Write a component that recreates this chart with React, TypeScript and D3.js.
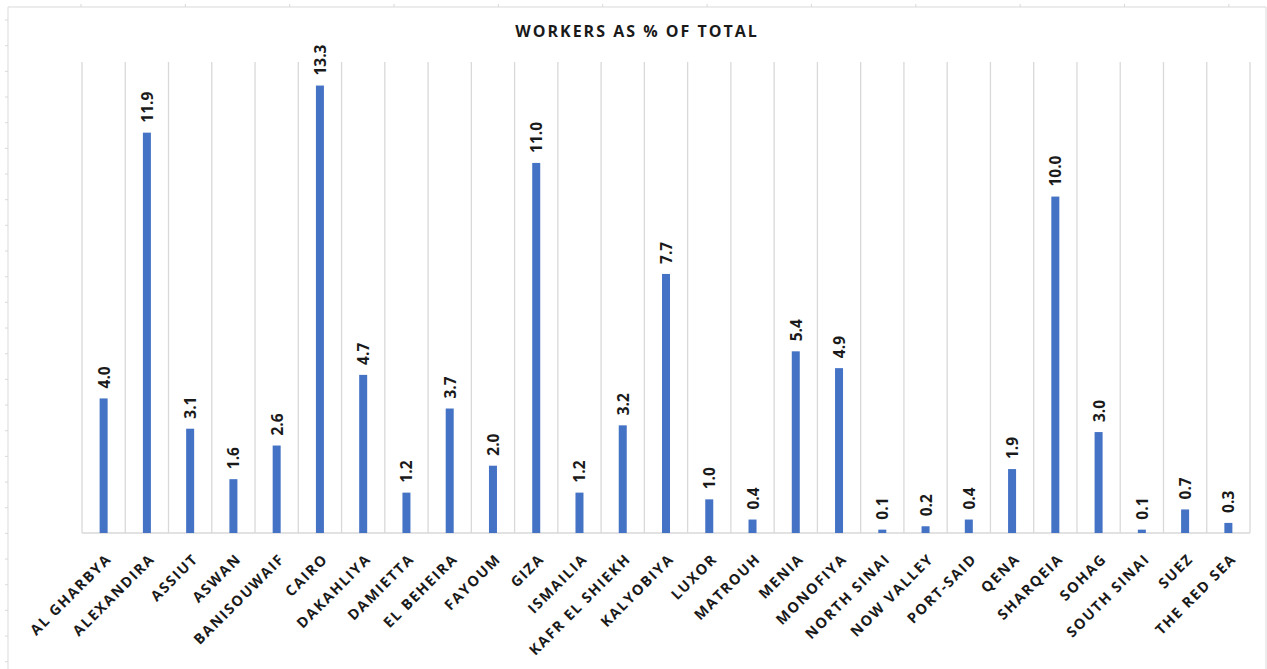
import React from "react";
import * as d3 from "d3";

// Share of workers by governorate (%)
const governorates = [
  "AL GHARBYA", "ALEXANDIRA", "ASSIUT", "ASWAN", "BANISOUWAIF", "CAIRO",
  "DAKAHLIYA", "DAMIETTA", "EL BEHEIRA", "FAYOUM", "GIZA", "ISMAILIA",
  "KAFR EL SHIEKH", "KALYOBIYA", "LUXOR", "MATROUH", "MENIA", "MONOFIYA",
  "NORTH SINAI", "NOW VALLEY", "PORT-SAID", "QENA", "SHARQEIA", "SOHAG",
  "SOUTH SINAI", "SUEZ", "THE RED SEA",
];
const workerShare = [
  4.0, 11.9, 3.1, 1.6, 2.6, 13.3, 4.7, 1.2, 3.7, 2.0, 11.0, 1.2, 3.2, 7.7,
  1.0, 0.4, 5.4, 4.9, 0.1, 0.2, 0.4, 1.9, 10.0, 3.0, 0.1, 0.7, 0.3,
];
const yDomain = [0, 14];
const chartTitle = "WORKERS AS % OF TOTAL";

const W = 1267;
const H = 669;
const plot = { left: 82, right: 1250, top: 62, bottom: 533 };
const FONT = "'Open Sans', 'DejaVu Sans', sans-serif";
const GRID = "#d9d9d9";
const BAR = "#4472C4";

export default function App() {
  const x = d3
    .scaleBand<string>()
    .domain(governorates)
    .range([plot.left, plot.right])
    .paddingInner(0)
    .paddingOuter(0);
  const y = d3.scaleLinear().domain(yDomain).range([plot.bottom, plot.top]);
  const barW = 8;
  const bw = x.bandwidth();

  const boundaries = d3.range(governorates.length + 1).map((i) => plot.left + i * bw);
  const leftRuler = d3.range(0, 26).map((i) => 20 + i * 25.67);
  const topRuler = d3.range(0, 12).map((i) => 81 + i * 104.35);

  return (
    <div style={{ position: "absolute", left: 0, top: 0 }}>
      <svg width={W} height={H} style={{ display: "block", background: "#fff" }}>
        {/* outer frame */}
        <line x1={8} y1={7} x2={1266} y2={7} stroke={GRID} strokeWidth={1} />
        <line x1={8} y1={7} x2={8} y2={H} stroke={GRID} strokeWidth={1} />
        <line x1={1266} y1={7} x2={1266} y2={H} stroke={GRID} strokeWidth={1} />
        {leftRuler.map((ty, i) => (
          <line key={"lr" + i} x1={5} x2={8} y1={ty} y2={ty} stroke={GRID} />
        ))}
        {topRuler.map((tx, i) => (
          <line key={"tr" + i} x1={tx} x2={tx} y1={4} y2={7} stroke={GRID} />
        ))}

        <text
          x={637}
          y={37}
          textAnchor="middle"
          fontFamily={FONT}
          fontWeight={700}
          fontSize={16}
          letterSpacing={2}
          fill="#1a1a1a"
        >
          {chartTitle}
        </text>

        {/* category separators */}
        {boundaries.map((bx, i) => (
          <line
            key={"g" + i}
            x1={bx}
            x2={bx}
            y1={plot.top}
            y2={plot.bottom}
            stroke={GRID}
            strokeWidth={1.3}
          />
        ))}
        <line
          x1={plot.left}
          x2={plot.right}
          y1={plot.bottom}
          y2={plot.bottom}
          stroke={GRID}
          strokeWidth={1.5}
        />

        {governorates.map((g, i) => {
          const v = workerShare[i];
          const cx = (x(g) as number) + bw / 2;
          const top = y(v);
          return (
            <g key={g}>
              <rect x={cx - barW / 2} y={top} width={barW} height={plot.bottom - top} fill={BAR} />
              <text
                transform={`translate(${cx},${top - 10}) rotate(-90)`}
                textAnchor="start"
                dominantBaseline="central"
                fontFamily={FONT}
                fontWeight={700}
                fontSize={15.5}
                fill="#1a1a1a"
              >
                {v.toFixed(1)}
              </text>
              <text
                transform={`translate(${cx + 5},${plot.bottom + 23}) rotate(-45)`}
                textAnchor="end"
                dominantBaseline="central"
                fontFamily={FONT}
                fontWeight={700}
                fontSize={14.5}
                letterSpacing={1.6}
                fill="#1a1a1a"
              >
                {g}
              </text>
            </g>
          );
        })}
      </svg>
    </div>
  );
}
